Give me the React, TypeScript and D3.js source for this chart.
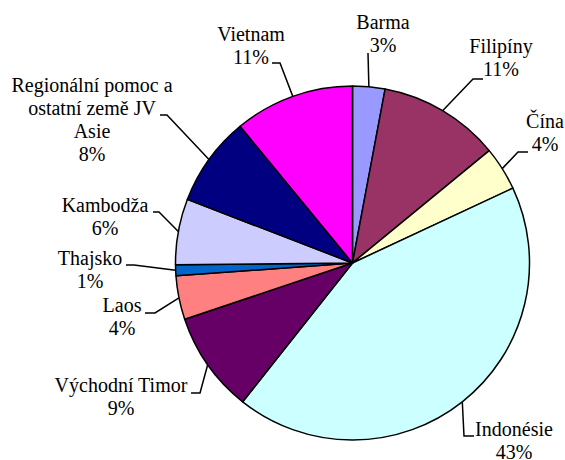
import React from 'react';
import * as d3 from 'd3';

const W = 565;
const H = 460;

// share of aid per country (start at 12 o'clock, clockwise)
const countries = ['Barma', 'Filipíny', 'Čína', 'Indonésie', 'Východní Timor', 'Laos', 'Thajsko', 'Kambodža', 'Regionální pomoc a ostatní země JV Asie', 'Vietnam'];
const values = [2.95, 11.1, 4.0, 42.6, 9.2, 4.0, 1.0, 6.0, 8.2, 10.95];
const colors = ['#9999FF', '#993366', '#FFFFCC', '#CCFFFF', '#660066', '#FF8080', '#0066CC', '#CCCCFF', '#000080', '#FF00FF'];
// how the label text is broken into lines
const labelLines = [
    ['Barma'],
    ['Filipíny'],
    ['Čína'],
    ['Indonésie'],
    ['Východní Timor'],
    ['Laos'],
    ['Thajsko'],
    ['Kambodža'],
    ['Regionální pomoc a', 'ostatní země JV', 'Asie'],
    ['Vietnam'],
];

// label placement: text centre, first baseline, where the leader meets the label, elbow offset
const labelLayout = [
    { x: 383, y: 29, ax: 368, ay: 53, elbow: 0 },
    { x: 501, y: 53, ax: 483, ay: 79, elbow: -10 },
    { x: 545, y: 128, ax: 528, ay: 152, elbow: -10 },
    { x: 514, y: 436, ax: 474, ay: 436, elbow: -10 },
    { x: 121, y: 392, ax: 191, ay: 393, elbow: 9 },
    { x: 122, y: 312, ax: 145, ay: 313, elbow: 10 },
    { x: 90, y: 265, ax: 126, ay: 265, elbow: 8 },
    { x: 105, y: 212, ax: 153, ay: 212, elbow: 6 },
    { x: 92, y: 92, ax: 160, ay: 115, elbow: 7 },
    { x: 251, y: 41, ax: 272, ay: 63, elbow: 8 },
];

const cx = 352.5;
const cy = 263;
const radius = 177;
const lineH = 23;
const FONT = '"Liberation Serif"';

export default function App() {
    const pie = d3.pie<number>().sort(null).value(d => d);
    const arcs = pie(values);
    const arc = d3.arc<d3.PieArcDatum<number>>().innerRadius(0).outerRadius(radius);
    const total = d3.sum(values);
    const pct = d3.format('.0%');

    return (
        <svg width={W} height={H} style={{ position: 'absolute', left: 0, top: 0, background: '#fff' }}>
            <g transform={`translate(${cx},${cy})`}>
                {arcs.map((a, i) => (
                    <path key={i} d={arc(a) || ''} fill={colors[i]} stroke="#000" strokeWidth={1.5} strokeLinejoin="round" />
                ))}
            </g>
            {arcs.map((a, i) => {
                const L = labelLayout[i];
                const mid = (a.startAngle + a.endAngle) / 2;
                const ex = cx + radius * Math.sin(mid);
                const ey = cy - radius * Math.cos(mid);
                const pts = L.elbow === 0
                    ? [[L.ax, L.ay], [ex, ey]]
                    : [[L.ax, L.ay], [L.ax + L.elbow, L.ay], [ex, ey]];
                const lines = [...labelLines[i], pct(values[i] / total)];
                return (
                    <g key={countries[i]}>
                        <path d={d3.line()(pts as [number, number][]) || ''} fill="none" stroke="#000" strokeWidth={1.5} />
                        <text textAnchor="middle" fill="#000" fontSize={20} style={{ fontFamily: FONT }}>
                            {lines.map((t, j) => (
                                <tspan key={j} x={L.x} y={L.y + j * lineH}>{t}</tspan>
                            ))}
                        </text>
                    </g>
                );
            })}
        </svg>
    );
}
